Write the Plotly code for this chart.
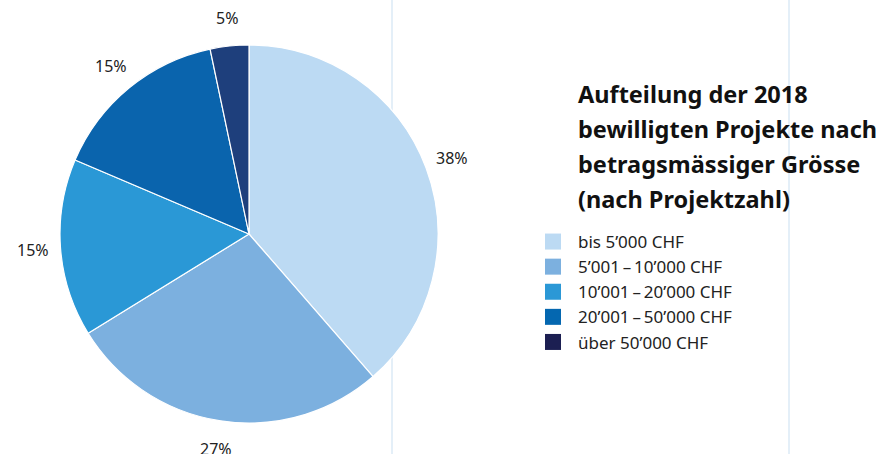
import math
import plotly.graph_objects as go

# Aufteilung der 2018 bewilligten Projekte (Anteil nach Projektzahl)
categories = ["bis 5\u2019000 CHF", "5\u2019001\u2009\u2013\u200910\u2019000 CHF",
              "10\u2019001\u2009\u2013\u200920\u2019000 CHF", "20\u2019001\u2009\u2013\u200950\u2019000 CHF",
              "über 50\u2019000 CHF"]
shares = [38.6, 27.6, 15.2, 15.3, 3.3]
labels = ["38%", "27%", "15%", "15%", "5%"]
slice_colors = ["#bcdaf3", "#7cb0df", "#2a98d6", "#0a64ad", "#1e3f7c"]
legend_colors = ["#bcdaf3", "#7cb0df", "#2b98d6", "#0467b0", "#1c1f52"]
title_lines = ["Aufteilung der 2018", "bewilligten Projekte nach",
               "betragsmässiger Grösse", "(nach Projektzahl)"]

W, H = 878, 454
FONT = "Noto Sans, sans-serif"
CX, CY, R = 249, 234, 189   # pie centre / radius in px

fig = go.Figure()
fig.add_trace(go.Pie(
    labels=categories,
    values=shares,
    text=labels,
    textinfo="none",
    marker=dict(colors=slice_colors, line=dict(color="white", width=1.2)),
    sort=False,
    direction="clockwise",
    rotation=0,
    domain=dict(x=[(CX - R) / W, (CX + R) / W], y=[(H - CY - R) / H, (H - CY + R) / H]),
    hoverinfo="label+text",
    showlegend=False,
))

# legend entries (square markers)
for name, col in zip(categories, legend_colors):
    fig.add_trace(go.Scatter(
        x=[None], y=[None], mode="markers", name=name,
        marker=dict(symbol="square", size=16, color=col),
    ))

# percentage labels outside the slices
total = sum(shares)
cum = 0
for val, lab in zip(shares, labels):
    mid = (cum + val / 2) / total * 2 * math.pi
    cum += val
    r = R + 28
    px_ = CX + r * math.sin(mid)
    py_ = CY - r * math.cos(mid)
    fig.add_annotation(
        text=lab, xref="paper", yref="paper", x=px_ / W, y=1 - py_ / H,
        xanchor="center", yanchor="middle", showarrow=False,
        font=dict(size=16, color="#222222", family=FONT),
    )

# light vertical guide lines behind the pie
for xp in [392, 789]:
    fig.add_shape(type="line", xref="paper", yref="paper",
                  x0=xp / W, x1=xp / W, y0=0, y1=1,
                  line=dict(color="#d6e6f5", width=1.3), layer="below")

for i, line in enumerate(title_lines):
    fig.add_annotation(
        text=line, xref="paper", yref="paper",
        x=576 / W, y=(H - (94 + 35 * i)) / H,
        xanchor="left", yanchor="middle", align="left", showarrow=False,
        font=dict(size=23.5, color="#111111", family=FONT, weight="bold"),
    )

fig.update_layout(
    width=W, height=H,
    margin=dict(l=0, r=0, t=0, b=0),
    paper_bgcolor="white",
    plot_bgcolor="rgba(0,0,0,0)",
    xaxis=dict(visible=False),
    yaxis=dict(visible=False),
    font=dict(family=FONT, size=17, color="#222222"),
    showlegend=True,
    legend=dict(x=528 / W, y=(H - 224) / H, xanchor="left", yanchor="top",
                font=dict(size=17, color="#222222"), itemwidth=40,
                itemsizing="trace", tracegroupgap=0, bgcolor="rgba(0,0,0,0)"),
)

fig.write_html("out.html", config={"displayModeBar": False},
               post_script="document.body.style.margin='0px';")
